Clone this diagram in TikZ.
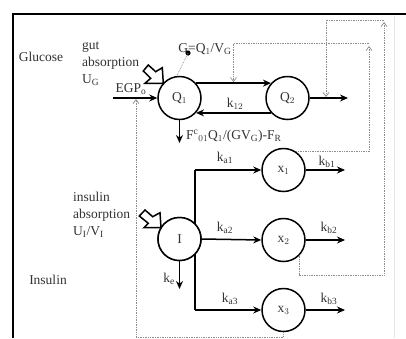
\documentclass[tikz,border=0pt]{standalone}
\usepackage{fontspec}
\setmainfont{Liberation Serif}
\usetikzlibrary{arrows.meta,calc}
\begin{document}
\begin{tikzpicture}[x=1pt,y=-1pt,
  comp/.style={circle,draw=black,line width=1.5pt,fill=white,minimum size=43pt,inner sep=0pt,text=black!80,font=\fontsize{13.5}{15}\selectfont},
  flow/.style={line width=1.5pt,-{Stealth[length=8pt,width=7pt]}},
  fb/.style={draw=black!45,line width=0.7pt,densely dotted},
  fbarr/.style={fb,-{Straight Barb[length=4pt,width=6pt]}},
  lbl/.style={text=black!80,font=\fontsize{13.5}{17}\selectfont,inner sep=1pt},
  blk/.style={draw=black,line width=1.5pt,fill=white,line join=miter}]
\useasboundingbox (0,0) rectangle (406,338);
\fill[white] (0,0) rectangle (406,338);
% frame
\draw[black!10,line width=0.5pt] (394,16) -- (394,338);
\draw[line width=1.6pt] (13,338) -- (13,14) -- (406,14);
% compartments
\node[comp] (Q1) at (179.5,98) {Q$_1$};
\node[comp] (Q2) at (287.5,98) {Q$_2$};
\node[comp] (I)  at (179.5,239) {I};
\node[comp] (x1) at (283.5,170) {x$_1$};
\node[comp] (x2) at (283.5,240) {x$_2$};
\node[comp] (x3) at (283.5,310) {x$_3$};
% free ends
\coordinate (egp) at (113,98);
\coordinate (q2out) at (348,98);
\coordinate (fout) at (179.5,143);
\coordinate (keout) at (179.5,289);
\coordinate (b1) at (345,170);
\coordinate (b2) at (345,240);
\coordinate (b3) at (345,310);
\coordinate (br1) at (195,170);
\coordinate (br3) at (195,310);
% branch line behind I
\draw[line width=1.5pt] (br1) -- (br3);
\node[comp] at (I) {I};
% glucose flows
\draw[flow] (Q1.42) -- (Q2.138) coordinate[pos=0.5] (m12);
\draw[flow] (Q2.-138) -- (Q1.-42);
\draw[flow] (Q2.east) -- (q2out);
\draw[flow] (egp) -- (Q1.west);
\draw[flow] (Q1.south) -- (fout);
% insulin flows
\draw[flow] (br1) -- (x1.west);
\draw[flow] (I.east) -- (x2.west);
\draw[flow] (br3) -- (x3.west);
\draw[flow] (I.south) -- (keout);
\draw[flow] (x1.east) -- (b1);
\draw[flow] (x2.east) -- (b2);
\draw[flow] (x3.east) -- (b3);
% block arrows
\draw[blk] (163.3,83.3) -- (145,83.3) -- (150.7,78.3) -- (143.3,71) -- (148.3,65) -- (155.7,71.7) -- (162.3,67.7) -- cycle;
\draw[blk] (161,227.7) -- (144,227.7) -- (148.3,223.3) -- (139.3,216) -- (145,210) -- (152.7,216.7) -- (160,212.7) -- cycle;
% G measurement
\node[lbl] (G) at (205,49) {G=Q$_1$/V$_\mathrm{G}$};
\fill (188,53) circle (2.6pt) coordinate (gdot);
\draw[fb] (gdot) -- (Q1.97);
% feedback loops
\coordinate (c1) at (369,43);
\coordinate (c2) at (384,20);
\coordinate (c3) at (136,337);
\draw[fbarr] (x1.55) -| ($(c1)+(0,3)$);
\draw[fbarr] (c1) -| ($(m12)+(0,-1)$);
\draw[fbarr] (x2.-45) |- (384,275) -- ($(c2)+(0,2)$);
\draw[fbarr] (c2) -| ($(q2out)+(-22,-1)$);
\draw[fbarr] (x3.south) |- (c3) -- ($(egp)+(23,1)$);
% labels
\node[lbl] at (41,57) {Glucose};
\node[lbl,anchor=west,align=left] at (81,64) {gut\\absorption\\U$_\mathrm{G}$};
\node[lbl] at (131,89) {EGP$_\mathrm{o}$};
\node[lbl] at (235,104) {k$_{12}$};
\node[lbl,anchor=west] at (185,136) {F$^\mathrm{c}$$_{01}$Q$_1$/(GV$_\mathrm{G}$)-F$_\mathrm{R}$};
\node[lbl] at (225,158) {k$_\mathrm{a1}$};
\node[lbl] at (225,228) {k$_\mathrm{a2}$};
\node[lbl] at (230,299) {k$_\mathrm{a3}$};
\node[lbl] at (327,162) {k$_\mathrm{b1}$};
\node[lbl] at (329,228) {k$_\mathrm{b2}$};
\node[lbl] at (329,299) {k$_\mathrm{b3}$};
\node[lbl] at (169,279) {k$_\mathrm{e}$};
\node[lbl,anchor=west,align=left] at (72,215) {insulin\\absorption\\U$_\mathrm{I}$/V$_\mathrm{I}$};
\node[lbl] at (48,280) {Insulin};
\end{tikzpicture}
\end{document}
